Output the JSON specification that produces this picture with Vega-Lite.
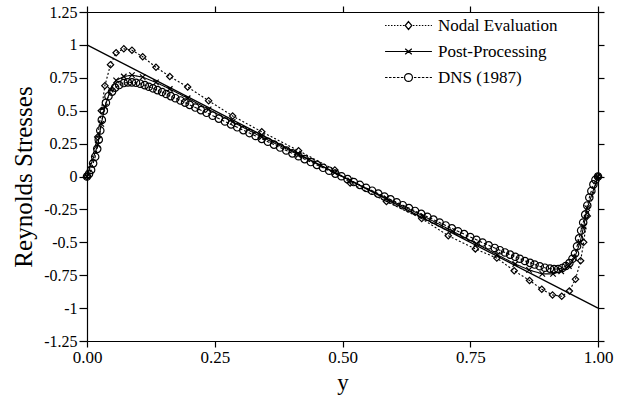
{
  "$schema": "https://vega.github.io/schema/vega-lite/v6.json",
  "width": 511,
  "height": 329,
  "autosize": {"type": "none"},
  "padding": {"left": 87, "top": 12, "right": 24, "bottom": 57},
  "background": "white",
  "config": {
    "font": "Liberation Serif",
    "view": {"stroke": null},
    "axis": {
      "domainColor": "black",
      "domainWidth": 1.2,
      "tickColor": "black",
      "tickWidth": 1.2,
      "tickSize": 6,
      "labelColor": "black",
      "titleColor": "black",
      "labelFont": "Liberation Serif",
      "titleFont": "Liberation Serif",
      "labelFontSize": 17,
      "titleFontWeight": "normal",
      "grid": false
    }
  },
  "datasets": {
    "total": [
      {"pos": 0, "stress": 1},
      {"pos": 1, "stress": -1}
    ],
    "curves": [
      {"series": "Nodal Evaluation", "pos": 0, "stress": 0},
      {"series": "Nodal Evaluation", "pos": 0.021, "stress": 0.3},
      {"series": "Nodal Evaluation", "pos": 0.028, "stress": 0.5},
      {"series": "Nodal Evaluation", "pos": 0.035, "stress": 0.69},
      {"series": "Nodal Evaluation", "pos": 0.046, "stress": 0.85},
      {"series": "Nodal Evaluation", "pos": 0.057, "stress": 0.94},
      {"series": "Nodal Evaluation", "pos": 0.072, "stress": 0.97},
      {"series": "Nodal Evaluation", "pos": 0.088, "stress": 0.96},
      {"series": "Nodal Evaluation", "pos": 0.109, "stress": 0.91},
      {"series": "Nodal Evaluation", "pos": 0.135, "stress": 0.83},
      {"series": "Nodal Evaluation", "pos": 0.162, "stress": 0.76},
      {"series": "Nodal Evaluation", "pos": 0.197, "stress": 0.68},
      {"series": "Nodal Evaluation", "pos": 0.238, "stress": 0.576},
      {"series": "Nodal Evaluation", "pos": 0.285, "stress": 0.46},
      {"series": "Nodal Evaluation", "pos": 0.342, "stress": 0.34},
      {"series": "Nodal Evaluation", "pos": 0.414, "stress": 0.196},
      {"series": "Nodal Evaluation", "pos": 0.485, "stress": 0.05},
      {"series": "Nodal Evaluation", "pos": 0.515, "stress": -0.05},
      {"series": "Nodal Evaluation", "pos": 0.586, "stress": -0.19},
      {"series": "Nodal Evaluation", "pos": 0.655, "stress": -0.32},
      {"series": "Nodal Evaluation", "pos": 0.707, "stress": -0.45},
      {"series": "Nodal Evaluation", "pos": 0.76, "stress": -0.55},
      {"series": "Nodal Evaluation", "pos": 0.802, "stress": -0.62},
      {"series": "Nodal Evaluation", "pos": 0.836, "stress": -0.716},
      {"series": "Nodal Evaluation", "pos": 0.866, "stress": -0.79},
      {"series": "Nodal Evaluation", "pos": 0.89, "stress": -0.857},
      {"series": "Nodal Evaluation", "pos": 0.911, "stress": -0.9},
      {"series": "Nodal Evaluation", "pos": 0.929, "stress": -0.91},
      {"series": "Nodal Evaluation", "pos": 0.944, "stress": -0.87},
      {"series": "Nodal Evaluation", "pos": 0.956, "stress": -0.78},
      {"series": "Nodal Evaluation", "pos": 0.966, "stress": -0.64},
      {"series": "Nodal Evaluation", "pos": 0.972, "stress": -0.5},
      {"series": "Nodal Evaluation", "pos": 0.979, "stress": -0.3},
      {"series": "Nodal Evaluation", "pos": 1.0, "stress": 0},

      {"series": "Post-Processing", "pos": 0, "stress": 0},
      {"series": "Post-Processing", "pos": 0.021, "stress": 0.24},
      {"series": "Post-Processing", "pos": 0.028, "stress": 0.4},
      {"series": "Post-Processing", "pos": 0.035, "stress": 0.53},
      {"series": "Post-Processing", "pos": 0.046, "stress": 0.66},
      {"series": "Post-Processing", "pos": 0.057, "stress": 0.73},
      {"series": "Post-Processing", "pos": 0.072, "stress": 0.76},
      {"series": "Post-Processing", "pos": 0.088, "stress": 0.77},
      {"series": "Post-Processing", "pos": 0.109, "stress": 0.755},
      {"series": "Post-Processing", "pos": 0.135, "stress": 0.715},
      {"series": "Post-Processing", "pos": 0.162, "stress": 0.665},
      {"series": "Post-Processing", "pos": 0.197, "stress": 0.595},
      {"series": "Post-Processing", "pos": 0.238, "stress": 0.51},
      {"series": "Post-Processing", "pos": 0.285, "stress": 0.415},
      {"series": "Post-Processing", "pos": 0.342, "stress": 0.3},
      {"series": "Post-Processing", "pos": 0.414, "stress": 0.165},
      {"series": "Post-Processing", "pos": 0.485, "stress": 0.03},
      {"series": "Post-Processing", "pos": 0.515, "stress": -0.03},
      {"series": "Post-Processing", "pos": 0.586, "stress": -0.165},
      {"series": "Post-Processing", "pos": 0.658, "stress": -0.3},
      {"series": "Post-Processing", "pos": 0.715, "stress": -0.415},
      {"series": "Post-Processing", "pos": 0.762, "stress": -0.51},
      {"series": "Post-Processing", "pos": 0.803, "stress": -0.595},
      {"series": "Post-Processing", "pos": 0.838, "stress": -0.665},
      {"series": "Post-Processing", "pos": 0.865, "stress": -0.71},
      {"series": "Post-Processing", "pos": 0.891, "stress": -0.74},
      {"series": "Post-Processing", "pos": 0.912, "stress": -0.74},
      {"series": "Post-Processing", "pos": 0.928, "stress": -0.72},
      {"series": "Post-Processing", "pos": 0.943, "stress": -0.68},
      {"series": "Post-Processing", "pos": 0.954, "stress": -0.62},
      {"series": "Post-Processing", "pos": 0.965, "stress": -0.5},
      {"series": "Post-Processing", "pos": 0.972, "stress": -0.38},
      {"series": "Post-Processing", "pos": 0.979, "stress": -0.24},
      {"series": "Post-Processing", "pos": 1.0, "stress": 0},

      {"series": "DNS (1987)", "pos": 0, "stress": 0},
      {"series": "DNS (1987)", "pos": 0.004, "stress": 0.02},
      {"series": "DNS (1987)", "pos": 0.008, "stress": 0.05},
      {"series": "DNS (1987)", "pos": 0.012, "stress": 0.1},
      {"series": "DNS (1987)", "pos": 0.016, "stress": 0.15},
      {"series": "DNS (1987)", "pos": 0.02, "stress": 0.21},
      {"series": "DNS (1987)", "pos": 0.023, "stress": 0.28},
      {"series": "DNS (1987)", "pos": 0.026, "stress": 0.35},
      {"series": "DNS (1987)", "pos": 0.029, "stress": 0.43},
      {"series": "DNS (1987)", "pos": 0.033, "stress": 0.5},
      {"series": "DNS (1987)", "pos": 0.037, "stress": 0.56},
      {"series": "DNS (1987)", "pos": 0.042, "stress": 0.61},
      {"series": "DNS (1987)", "pos": 0.049, "stress": 0.645},
      {"series": "DNS (1987)", "pos": 0.055, "stress": 0.675},
      {"series": "DNS (1987)", "pos": 0.063, "stress": 0.695},
      {"series": "DNS (1987)", "pos": 0.072, "stress": 0.71},
      {"series": "DNS (1987)", "pos": 0.08, "stress": 0.715},
      {"series": "DNS (1987)", "pos": 0.088, "stress": 0.715},
      {"series": "DNS (1987)", "pos": 0.096, "stress": 0.712},
      {"series": "DNS (1987)", "pos": 0.104, "stress": 0.705},
      {"series": "DNS (1987)", "pos": 0.113, "stress": 0.694},
      {"series": "DNS (1987)", "pos": 0.121, "stress": 0.682},
      {"series": "DNS (1987)", "pos": 0.129, "stress": 0.67},
      {"series": "DNS (1987)", "pos": 0.138, "stress": 0.656},
      {"series": "DNS (1987)", "pos": 0.147, "stress": 0.642},
      {"series": "DNS (1987)", "pos": 0.155, "stress": 0.627},
      {"series": "DNS (1987)", "pos": 0.164, "stress": 0.611},
      {"series": "DNS (1987)", "pos": 0.173, "stress": 0.595},
      {"series": "DNS (1987)", "pos": 0.183, "stress": 0.578},
      {"series": "DNS (1987)", "pos": 0.192, "stress": 0.561},
      {"series": "DNS (1987)", "pos": 0.201, "stress": 0.544},
      {"series": "DNS (1987)", "pos": 0.212, "stress": 0.524},
      {"series": "DNS (1987)", "pos": 0.223, "stress": 0.504},
      {"series": "DNS (1987)", "pos": 0.234, "stress": 0.484},
      {"series": "DNS (1987)", "pos": 0.246, "stress": 0.462},
      {"series": "DNS (1987)", "pos": 0.258, "stress": 0.44},
      {"series": "DNS (1987)", "pos": 0.27, "stress": 0.418},
      {"series": "DNS (1987)", "pos": 0.282, "stress": 0.396},
      {"series": "DNS (1987)", "pos": 0.294, "stress": 0.374},
      {"series": "DNS (1987)", "pos": 0.306, "stress": 0.352},
      {"series": "DNS (1987)", "pos": 0.318, "stress": 0.33},
      {"series": "DNS (1987)", "pos": 0.33, "stress": 0.308},
      {"series": "DNS (1987)", "pos": 0.342, "stress": 0.286},
      {"series": "DNS (1987)", "pos": 0.354, "stress": 0.264},
      {"series": "DNS (1987)", "pos": 0.366, "stress": 0.242},
      {"series": "DNS (1987)", "pos": 0.378, "stress": 0.22},
      {"series": "DNS (1987)", "pos": 0.39, "stress": 0.198},
      {"series": "DNS (1987)", "pos": 0.402, "stress": 0.176},
      {"series": "DNS (1987)", "pos": 0.414, "stress": 0.154},
      {"series": "DNS (1987)", "pos": 0.426, "stress": 0.132},
      {"series": "DNS (1987)", "pos": 0.438, "stress": 0.11},
      {"series": "DNS (1987)", "pos": 0.45, "stress": 0.088},
      {"series": "DNS (1987)", "pos": 0.462, "stress": 0.066},
      {"series": "DNS (1987)", "pos": 0.474, "stress": 0.044},
      {"series": "DNS (1987)", "pos": 0.486, "stress": 0.022},
      {"series": "DNS (1987)", "pos": 0.498, "stress": 0.002},
      {"series": "DNS (1987)", "pos": 0.51, "stress": -0.02},
      {"series": "DNS (1987)", "pos": 0.522, "stress": -0.042},
      {"series": "DNS (1987)", "pos": 0.534, "stress": -0.064},
      {"series": "DNS (1987)", "pos": 0.546, "stress": -0.086},
      {"series": "DNS (1987)", "pos": 0.558, "stress": -0.108},
      {"series": "DNS (1987)", "pos": 0.57, "stress": -0.13},
      {"series": "DNS (1987)", "pos": 0.582, "stress": -0.152},
      {"series": "DNS (1987)", "pos": 0.594, "stress": -0.174},
      {"series": "DNS (1987)", "pos": 0.606, "stress": -0.196},
      {"series": "DNS (1987)", "pos": 0.618, "stress": -0.218},
      {"series": "DNS (1987)", "pos": 0.63, "stress": -0.24},
      {"series": "DNS (1987)", "pos": 0.642, "stress": -0.262},
      {"series": "DNS (1987)", "pos": 0.654, "stress": -0.284},
      {"series": "DNS (1987)", "pos": 0.666, "stress": -0.306},
      {"series": "DNS (1987)", "pos": 0.678, "stress": -0.328},
      {"series": "DNS (1987)", "pos": 0.69, "stress": -0.35},
      {"series": "DNS (1987)", "pos": 0.702, "stress": -0.372},
      {"series": "DNS (1987)", "pos": 0.714, "stress": -0.394},
      {"series": "DNS (1987)", "pos": 0.726, "stress": -0.416},
      {"series": "DNS (1987)", "pos": 0.738, "stress": -0.438},
      {"series": "DNS (1987)", "pos": 0.75, "stress": -0.46},
      {"series": "DNS (1987)", "pos": 0.762, "stress": -0.481},
      {"series": "DNS (1987)", "pos": 0.774, "stress": -0.502},
      {"series": "DNS (1987)", "pos": 0.786, "stress": -0.523},
      {"series": "DNS (1987)", "pos": 0.798, "stress": -0.543},
      {"series": "DNS (1987)", "pos": 0.808, "stress": -0.56},
      {"series": "DNS (1987)", "pos": 0.818, "stress": -0.577},
      {"series": "DNS (1987)", "pos": 0.828, "stress": -0.594},
      {"series": "DNS (1987)", "pos": 0.838, "stress": -0.61},
      {"series": "DNS (1987)", "pos": 0.847, "stress": -0.625},
      {"series": "DNS (1987)", "pos": 0.857, "stress": -0.642},
      {"series": "DNS (1987)", "pos": 0.867, "stress": -0.656},
      {"series": "DNS (1987)", "pos": 0.876, "stress": -0.669},
      {"series": "DNS (1987)", "pos": 0.886, "stress": -0.682},
      {"series": "DNS (1987)", "pos": 0.896, "stress": -0.693},
      {"series": "DNS (1987)", "pos": 0.906, "stress": -0.7},
      {"series": "DNS (1987)", "pos": 0.914, "stress": -0.704},
      {"series": "DNS (1987)", "pos": 0.922, "stress": -0.703},
      {"series": "DNS (1987)", "pos": 0.93, "stress": -0.695},
      {"series": "DNS (1987)", "pos": 0.937, "stress": -0.68},
      {"series": "DNS (1987)", "pos": 0.944, "stress": -0.658},
      {"series": "DNS (1987)", "pos": 0.95, "stress": -0.625},
      {"series": "DNS (1987)", "pos": 0.955, "stress": -0.585},
      {"series": "DNS (1987)", "pos": 0.959, "stress": -0.53},
      {"series": "DNS (1987)", "pos": 0.963, "stress": -0.47},
      {"series": "DNS (1987)", "pos": 0.967, "stress": -0.41},
      {"series": "DNS (1987)", "pos": 0.971, "stress": -0.35},
      {"series": "DNS (1987)", "pos": 0.975, "stress": -0.29},
      {"series": "DNS (1987)", "pos": 0.979, "stress": -0.22},
      {"series": "DNS (1987)", "pos": 0.983, "stress": -0.16},
      {"series": "DNS (1987)", "pos": 0.987, "stress": -0.11},
      {"series": "DNS (1987)", "pos": 0.991, "stress": -0.06},
      {"series": "DNS (1987)", "pos": 0.995, "stress": -0.025},
      {"series": "DNS (1987)", "pos": 1.0, "stress": 0}
    ]
  },
  "resolve": {"axis": {"x": "independent", "y": "independent"}},
  "layer": [
    {
      "data": {"name": "total"},
      "mark": {"type": "line", "color": "black", "strokeWidth": 1.3},
      "encoding": {
        "x": {
          "field": "pos", "type": "quantitative",
          "scale": {"domain": [0, 1], "nice": false, "zero": false},
          "axis": {"orient": "top", "values": [0, 0.25, 0.5, 0.75, 1], "labels": false, "title": null, "ticks": true}
        },
        "y": {
          "field": "stress", "type": "quantitative",
          "scale": {"domain": [-1.25, 1.25], "nice": false, "zero": false},
          "axis": {"orient": "right", "values": [-1.25, -1, -0.75, -0.5, -0.25, 0, 0.25, 0.5, 0.75, 1, 1.25], "labels": false, "title": null, "ticks": true}
        }
      }
    },
    {
      "data": {"name": "curves"},
      "mark": {"type": "line", "color": "black", "strokeWidth": 1.1},
      "encoding": {
        "x": {
          "field": "pos", "type": "quantitative",
          "axis": {
            "orient": "bottom", "values": [0, 0.25, 0.5, 0.75, 1], "format": ".2f",
            "title": "y", "titleFontSize": 23, "labelPadding": 2, "titlePadding": 6,
            "labelFlush": false
          }
        },
        "y": {
          "field": "stress", "type": "quantitative",
          "axis": {
            "orient": "left", "values": [-1.25, -1, -0.75, -0.5, -0.25, 0, 0.25, 0.5, 0.75, 1, 1.25],
            "labelExpr": "replace(format(datum.value, '~g'), '\u2212', '-')",
            "labelFontSize": 16,
            "title": "Reynolds Stresses", "titleFontSize": 25, "tickSize": 8,
            "labelPadding": 2, "titlePadding": 7
          }
        },
        "detail": {"field": "series"},
        "strokeDash": {
          "field": "series", "type": "nominal",
          "scale": {"domain": ["DNS (1987)", "Nodal Evaluation", "Post-Processing"], "range": [[3, 2], [2, 2], [1, 0]]},
          "legend": null
        }
      }
    },
    {
      "data": {"name": "curves"},
      "mark": {"type": "point", "size": 0, "filled": false, "color": "black", "strokeWidth": 1.2},
      "encoding": {
        "x": {"field": "pos", "type": "quantitative", "axis": null},
        "y": {"field": "stress", "type": "quantitative", "axis": null},
        "shape": {
          "field": "series", "type": "nominal",
          "scale": {
            "domain": ["Nodal Evaluation", "Post-Processing", "DNS (1987)"],
            "range": [
              "M-1.42,0h0.09M-1.24,0h0.09M-1.06,0h0.09M-0.88,0h0.09M-0.7,0h0.09M-0.52,0h0.09M-0.34,0h0.09M0.27,0h0.09M0.45,0h0.09M0.63,0h0.09M0.81,0h0.09M0.99,0h0.09M1.17,0h0.09M1.35,0h0.07M0,-0.24L0.2,0L0,0.24L-0.2,0Z",
              "M-1.42,0H1.42M-0.2,-0.17L0.2,0.17M-0.2,0.17L0.2,-0.17",
              "M-1.42,0h0.15M-1.18,0h0.15M-0.94,0h0.15M-0.7,0h0.15M-0.46,0h0.15M0.33,0h0.15M0.57,0h0.15M0.81,0h0.15M1.05,0h0.15M1.29,0h0.13M0.24,0A0.24,0.24,0,1,1,-0.24,0A0.24,0.24,0,1,1,0.24,0Z"
            ]
          },
          "legend": {
            "title": null,
            "orient": "none",
            "legendX": 304,
            "legendY": -4,
            "symbolSize": 1089,
            "symbolStrokeWidth": 1.2,
            "symbolStrokeColor": "black",
            "symbolFillColor": "white",
            "symbolOpacity": 1,
            "labelFontSize": 17,
            "labelFont": "Liberation Serif",
            "labelColor": "black",
            "labelOffset": 12,
            "rowPadding": 0
          }
        }
      }
    },
    {
      "data": {"name": "curves"},
      "transform": [{"filter": "datum.series === 'Nodal Evaluation'"}],
      "mark": {"type": "point", "shape": "diamond", "size": 40, "filled": false, "color": "black", "strokeWidth": 1.2, "opacity": 1},
      "encoding": {
        "x": {"field": "pos", "type": "quantitative", "axis": null},
        "y": {"field": "stress", "type": "quantitative", "axis": null}
      }
    },
    {
      "data": {"name": "curves"},
      "transform": [{"filter": "datum.series === 'Post-Processing'"}],
      "mark": {"type": "point", "shape": "M-1,-1L1,1M-1,1L1,-1", "size": 30, "filled": false, "color": "black", "strokeWidth": 1.2, "opacity": 1},
      "encoding": {
        "x": {"field": "pos", "type": "quantitative", "axis": null},
        "y": {"field": "stress", "type": "quantitative", "axis": null}
      }
    },
    {
      "data": {"name": "curves"},
      "transform": [{"filter": "datum.series === 'DNS (1987)'"}],
      "mark": {"type": "point", "shape": "circle", "size": 55, "filled": false, "color": "black", "strokeWidth": 1.2, "opacity": 1},
      "encoding": {
        "x": {"field": "pos", "type": "quantitative", "axis": null},
        "y": {"field": "stress", "type": "quantitative", "axis": null}
      }
    }
  ]
}
